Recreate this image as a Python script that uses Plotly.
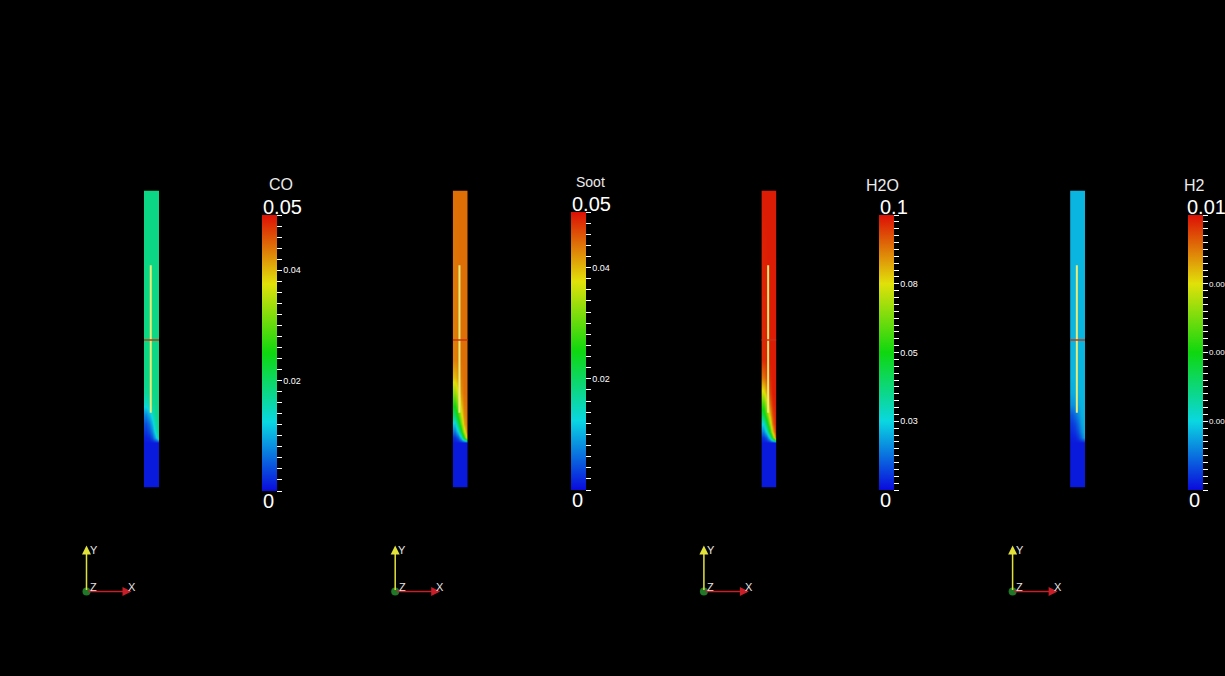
import plotly.graph_objects as go

# ---- scalar fields on the channel cross-section ----
FIELDS = ["CO", "Soot", "H2O", "H2"]
RANGE_MAX = [0.05, 0.05, 0.1, 0.01]
TOP_LABELS = ["0.05", "0.05", "0.1", "0.01"]
TOP_LABEL_DX = [-1, -1, -1, -3]
BOTTOM_LABEL = "0"
MINOR_STEP = [0.002, 0.002, 0.0025, 0.00025]
LABELED_TICKS = [[0.02, 0.04], [0.02, 0.04], [0.025, 0.05, 0.075], [0.0025, 0.005, 0.0075]]
LABELED_TEXT = [["0.02", "0.04"], ["0.02", "0.04"], ["0.03", "0.05", "0.08"], ["0.003", "0.005", "0.008"]]
TICK_FONT = [9, 9, 9, 8]

# sample grid: radial position (fraction of width) and axial position (fraction of height)
X_CENTERS = [0.1, 0.3, 0.5, 0.7, 0.9]
Y_ROWS = [0.0, 0.150, 0.168, 0.19, 0.215, 0.245, 0.28, 0.32, 0.37, 0.43, 1.0]

CO_FIELD = [
    [0.0010, 0.0010, 0.0010, 0.0010, 0.0010],
    [0.0010, 0.0010, 0.0010, 0.0010, 0.0010],
    [0.0015, 0.0020, 0.0044, 0.0095, 0.0163],
    [0.0027, 0.0041, 0.0075, 0.0132, 0.0177],
    [0.0044, 0.0064, 0.0104, 0.0156, 0.0180],
    [0.0078, 0.0104, 0.0138, 0.0170, 0.0180],
    [0.0138, 0.0149, 0.0166, 0.0177, 0.0180],
    [0.0168, 0.0173, 0.0178, 0.0180, 0.0180],
    [0.0178, 0.0180, 0.0180, 0.0180, 0.0180],
    [0.0180, 0.0180, 0.0180, 0.0180, 0.0180],
    [0.0180, 0.0180, 0.0180, 0.0180, 0.0180],
]
SOOT_FIELD = [
    [0.0010, 0.0010, 0.0010, 0.0010, 0.0010],
    [0.0010, 0.0010, 0.0010, 0.0010, 0.0010],
    [0.0023, 0.0045, 0.0110, 0.0248, 0.0400],
    [0.0066, 0.0120, 0.0220, 0.0350, 0.0434],
    [0.0120, 0.0200, 0.0300, 0.0405, 0.0443],
    [0.0200, 0.0270, 0.0355, 0.0425, 0.0443],
    [0.0260, 0.0320, 0.0390, 0.0436, 0.0443],
    [0.0330, 0.0370, 0.0420, 0.0443, 0.0443],
    [0.0395, 0.0417, 0.0434, 0.0443, 0.0443],
    [0.0434, 0.0439, 0.0443, 0.0443, 0.0443],
    [0.0443, 0.0443, 0.0443, 0.0443, 0.0443],
]
H2O_FIELD = [
    [0.0020, 0.0020, 0.0020, 0.0020, 0.0020],
    [0.0020, 0.0020, 0.0020, 0.0020, 0.0020],
    [0.0049, 0.0097, 0.0242, 0.0551, 0.0889],
    [0.0145, 0.0260, 0.0480, 0.0780, 0.0966],
    [0.0260, 0.0430, 0.0650, 0.0890, 0.0985],
    [0.0430, 0.0590, 0.0780, 0.0935, 0.0985],
    [0.0560, 0.0700, 0.0865, 0.0966, 0.0985],
    [0.0730, 0.0820, 0.0930, 0.0985, 0.0985],
    [0.0879, 0.0927, 0.0966, 0.0985, 0.0985],
    [0.0966, 0.0975, 0.0985, 0.0985, 0.0985],
    [0.0985, 0.0985, 0.0985, 0.0985, 0.0985],
]
H2_FIELD = [
    [0.00020, 0.00020, 0.00020, 0.00020, 0.00020],
    [0.00020, 0.00020, 0.00020, 0.00020, 0.00020],
    [0.00026, 0.00031, 0.00058, 0.00115, 0.00191],
    [0.00039, 0.00054, 0.00092, 0.00157, 0.00206],
    [0.00058, 0.00081, 0.00125, 0.00183, 0.00210],
    [0.00096, 0.00125, 0.00163, 0.00199, 0.00210],
    [0.00163, 0.00176, 0.00195, 0.00206, 0.00210],
    [0.00197, 0.00202, 0.00208, 0.00210, 0.00210],
    [0.00208, 0.00210, 0.00210, 0.00210, 0.00210],
    [0.00210, 0.00210, 0.00210, 0.00210, 0.00210],
    [0.00210, 0.00210, 0.00210, 0.00210, 0.00210],
]
FIELD_DATA = [CO_FIELD, SOOT_FIELD, H2O_FIELD, H2_FIELD]

# probe line widget (in the channel's own coordinates)
PROBE_X = 0.45
PROBE_Y0, PROBE_Y1 = 0.252, 0.748
PROBE_CROSS_Y = 0.497

# ---- page geometry (pixels) ----
W, H = 1225, 676
STEP = 308.7
COL_LEFT, COL_W, COL_TOP, COL_BOT = 144.0, 15.0, 190.5, 487.5
BAR_LEFT, BAR_W = 262.0, 15.0
BAR_TOP = [215, 212, 215, 215]
BAR_BOT = [491, 490, 490, 490]
TITLE_DX = [19, 20, 3, 6]
TITLE_Y = [184, 182, 185, 185]
TITLE_SIZE = [16, 14, 16, 16]
TRIAD_X0, TRIAD_Y0 = 86.5, 591.5

RAINBOW = [
    [0.00, "rgb(10,10,220)"],
    [0.25, "rgb(10,215,225)"],
    [0.50, "rgb(15,215,15)"],
    [0.75, "rgb(225,225,10)"],
    [1.00, "rgb(220,15,5)"],
]
FONT = "Liberation Sans"


def px(x):
    return x / W


def py(y):
    return 1 - y / H


fig = go.Figure()
annotations = []
shapes = []

for i, name in enumerate(FIELDS):
    off = i * STEP
    suffix = "" if i == 0 else str(i + 1)
    zmax = RANGE_MAX[i]
    bar_len = BAR_BOT[i] - BAR_TOP[i]

    # minor + labelled ticks for the scalar bar
    n_minor = int(round(zmax / MINOR_STEP[i]))
    tickvals = [k * MINOR_STEP[i] for k in range(n_minor + 1)]
    ticktext = [""] * len(tickvals)
    for v, t in zip(LABELED_TICKS[i], LABELED_TEXT[i]):
        k = min(range(len(tickvals)), key=lambda j: abs(tickvals[j] - v))
        ticktext[k] = t

    fig.add_trace(go.Heatmap(
        x=X_CENTERS, y=Y_ROWS, z=FIELD_DATA[i],
        zmin=0, zmax=zmax, zsmooth="best",
        colorscale=RAINBOW,
        xaxis="x" + suffix, yaxis="y" + suffix,
        hoverinfo="skip",
        colorbar=dict(
            x=px(BAR_LEFT + off), xanchor="left", xpad=0,
            y=py(BAR_TOP[i]), yanchor="top", ypad=0,
            len=bar_len, lenmode="pixels",
            thickness=BAR_W, thicknessmode="pixels",
            outlinewidth=0, borderwidth=0,
            tickmode="array", tickvals=tickvals, ticktext=ticktext,
            ticks="outside", ticklen=5, tickwidth=1, tickcolor="white",
            tickfont=dict(family=FONT, size=TICK_FONT[i], color="white"),
        ),
    ))

    fig.update_layout(**{
        "xaxis" + suffix: dict(domain=[px(COL_LEFT + off), px(COL_LEFT + COL_W + off)],
                               range=[0, 1], visible=False, anchor="y" + suffix),
        "yaxis" + suffix: dict(domain=[py(COL_BOT), py(COL_TOP)],
                               range=[0, 1], visible=False, anchor="x" + suffix),
    })

    # probe line and its centre marker
    shapes.append(dict(type="line", xref="x" + suffix, yref="y" + suffix,
                       x0=PROBE_X, x1=PROBE_X, y0=PROBE_Y0, y1=PROBE_Y1,
                       line=dict(color="rgb(235,235,120)", width=2)))
    shapes.append(dict(type="line", xref="x" + suffix, yref="y" + suffix,
                       x0=0, x1=1, y0=PROBE_CROSS_Y, y1=PROBE_CROSS_Y,
                       line=dict(color="rgb(200,50,20)", width=1.5)))

    # scalar bar title, range labels
    annotations.append(dict(text=name, x=px(BAR_LEFT + TITLE_DX[i] + off), y=py(TITLE_Y[i]),
                            xref="paper", yref="paper", xanchor="center", yanchor="middle",
                            showarrow=False,
                            font=dict(family=FONT, size=TITLE_SIZE[i], color="rgb(235,235,235)")))
    annotations.append(dict(text=TOP_LABELS[i], x=px(BAR_LEFT + TOP_LABEL_DX[i] + off),
                            y=py(BAR_TOP[i] + 5),
                            xref="paper", yref="paper", xanchor="left", yanchor="bottom",
                            showarrow=False, font=dict(family=FONT, size=20, color="white")))
    annotations.append(dict(text=BOTTOM_LABEL, x=px(BAR_LEFT - 1 + off), y=py(BAR_BOT[i] - 3),
                            xref="paper", yref="paper", xanchor="left", yanchor="top",
                            showarrow=False, font=dict(family=FONT, size=20, color="white")))

    # orientation triad
    ox, oy = TRIAD_X0 + off, TRIAD_Y0
    annotations.append(dict(text="", x=px(ox), y=py(oy - 46), xref="paper", yref="paper",
                            ax=0, ay=46, showarrow=True, arrowhead=2, arrowsize=1.2,
                            arrowwidth=1.5, arrowcolor="rgb(225,225,60)", standoff=0))
    annotations.append(dict(text="", x=px(ox + 45), y=py(oy), xref="paper", yref="paper",
                            ax=-45, ay=0, showarrow=True, arrowhead=2, arrowsize=1.2,
                            arrowwidth=1.5, arrowcolor="rgb(200,30,40)", standoff=0))
    for lbl, lx, ly in (("Y", ox + 7, oy - 42), ("Z", ox + 7, oy - 5), ("X", ox + 45, oy - 5)):
        annotations.append(dict(text=lbl, x=px(lx), y=py(ly), xref="paper", yref="paper",
                                xanchor="center", yanchor="middle", showarrow=False,
                                font=dict(family=FONT, size=11, color="rgb(230,230,230)")))
    shapes.append(dict(type="circle", xref="paper", yref="paper",
                       xsizemode="pixel", ysizemode="pixel",
                       xanchor=px(ox), yanchor=py(oy), x0=-4, x1=4, y0=-4, y1=4,
                       fillcolor="rgb(30,120,40)", line=dict(width=0)))

fig.update_layout(
    width=W, height=H,
    margin=dict(l=0, r=0, t=0, b=0, autoexpand=False),
    paper_bgcolor="black", plot_bgcolor="black",
    showlegend=False,
    annotations=annotations,
    shapes=shapes,
)

fig.write_html("out.html")
